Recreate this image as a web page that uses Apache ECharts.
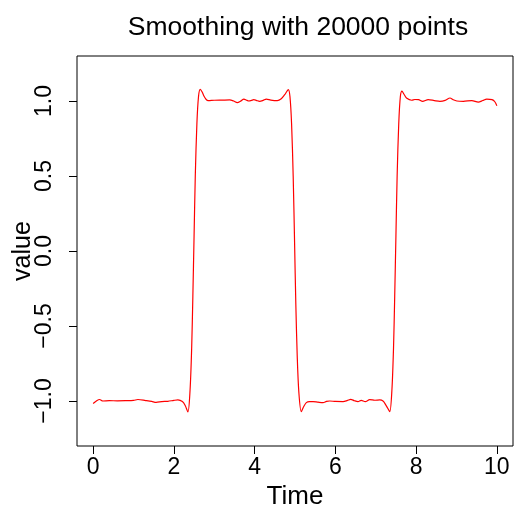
<!DOCTYPE html>
<html><head><meta charset="utf-8">
<script src="https://cdn.jsdelivr.net/npm/echarts@6/dist/echarts.min.js"></script>
<style>html,body{margin:0;padding:0;background:#fff}#c{width:514px;height:508px}</style>
</head><body><div id="c"></div>
<script>
var titleText = 'Smoothing with 20000 points';
var xTicks = [0, 2, 4, 6, 8, 10];
var yTicks = [-1, -0.5, 0, 0.5, 1];
var time = [0, 0.08, 0.16, 0.24, 0.4, 0.6, 0.8, 1.0, 1.11, 1.3, 1.45, 1.56, 1.7, 1.85, 2.0, 2.10, 2.21, 2.28, 2.347,
  2.40, 2.44, 2.47, 2.50, 2.53, 2.57, 2.61, 2.652, 2.70, 2.744, 2.80, 2.85, 3.0, 3.2, 3.38, 3.48, 3.57, 3.65, 3.735,
  3.80, 3.86, 3.92, 3.98, 4.05, 4.125, 4.21, 4.29, 4.40, 4.56, 4.66, 4.745, 4.834, 4.875, 4.915, 4.955, 4.99, 5.02,
  5.055, 5.095, 5.156, 5.21, 5.28, 5.36, 5.446, 5.57, 5.694, 5.78, 5.86, 6.0, 6.19, 6.30, 6.38, 6.47, 6.56, 6.64,
  6.74, 6.85, 6.98, 7.10, 7.18, 7.24, 7.30, 7.348, 7.40, 7.44, 7.47, 7.50, 7.53, 7.57, 7.61, 7.65, 7.70, 7.77, 7.89,
  7.97, 8.06, 8.16, 8.30, 8.45, 8.59, 8.72, 8.84, 8.92, 9.01, 9.17, 9.38, 9.54, 9.65, 9.75, 9.88, 9.95, 10.0];
var value = [-1.017, -1.0, -0.99, -1.0, -0.998, -0.999, -0.998, -0.996, -0.99, -0.997, -1.003, -1.009, -1.004, -1.002,
  -0.996, -0.993, -1.004, -1.03, -1.073,
  -0.93, -0.65, -0.3, 0.1, 0.5, 0.85, 1.03, 1.078, 1.06, 1.033, 1.01, 1.002, 1.005, 1.006, 1.007, 1.0, 0.989, 0.998, 1.013,
  1.005, 1.0, 1.004, 1.009, 1.003, 0.998, 1.004, 1.013, 1.006, 1.002, 1.015, 1.042, 1.076, 1.03, 0.85, 0.5, 0.05, -0.35,
  -0.7, -0.94, -1.071, -1.04, -1.011, -1.004, -1.004, -1.008, -1.011, -1.003, -1.0, -1.003, -1.004, -0.996, -0.989, -0.998, -1.004, -0.996,
  -1.004, -0.991, -0.995, -0.993, -1.0, -1.022, -1.05, -1.071, -0.93, -0.65, -0.3, 0.1, 0.5, 0.85, 1.03, 1.066, 1.045, 1.018, 1.005,
  1.01, 1.009, 0.998, 1.009, 1.003, 0.998, 1.004, 1.02, 1.008, 1.0, 0.998, 1.003, 0.993, 1.003, 1.013, 1.009, 0.995, 0.968];

var font = 'Liberation Sans, Arial, Helvetica, sans-serif';
var pts = time.map(function (t, i) { return [t, value[i]]; });
var box = {left: 77, right: 1, top: 56, bottom: 62, outerBoundsMode: 'none'};
function g(extra) { return Object.assign({}, box, extra || {}); }
var tickStyle = {show: true, length: 8, lineStyle: {color: '#000', width: 1}};
var tickLine = {show: true, showMinLine: false, showMaxLine: false, lineStyle: {color: '#000', width: 1, type: 'solid'}};
var chart = echarts.init(document.getElementById('c'), null, {renderer: 'canvas'});
chart.setOption({
  animation: false,
  backgroundColor: '#fff',
  title: {
    text: titleText, left: 293, top: 9, textAlign: 'center',
    textStyle: {fontFamily: font, fontSize: 26.5, fontWeight: 'normal', color: '#000'}
  },
  grid: [
    g({show: true, borderColor: '#000', borderWidth: 1, backgroundColor: 'transparent'}),
    g({show: false}),
    g({show: false}),
    {left: 77, right: 1, top: 446, bottom: 54, show: false, outerBoundsMode: 'none'},
    {left: 69, width: 8, top: 56, bottom: 62, show: false, outerBoundsMode: 'none'}
  ],
  xAxis: [{
    gridIndex: 0, type: 'value', min: -0.4, max: 10.4,
    name: 'Time', nameLocation: 'middle', nameGap: 38, nameMoveOverlap: false,
    nameTextStyle: {fontFamily: font, fontSize: 26, color: '#000'},
    axisLine: {show: false, onZero: true, onZeroAxisIndex: 0},
    axisTick: Object.assign({customValues: xTicks}, tickStyle),
    axisLabel: {customValues: xTicks, margin: 10, fontFamily: font, fontSize: 23, color: '#000'},
    splitLine: {show: false}
  }, {
    gridIndex: 1, type: 'value', show: false, min: 0, max: 1
  }, {
    gridIndex: 2, type: 'value', show: false, min: -0.4, max: 10.4
  }, {
    gridIndex: 3, type: 'value', min: -0.4, max: 10.4, splitNumber: 5,
    axisLine: {show: false}, axisTick: {show: false}, axisLabel: {show: false},
    splitLine: tickLine
  }, {
    gridIndex: 4, type: 'value', show: false, min: 0, max: 1
  }],
  yAxis: [{
    gridIndex: 0, type: 'value', show: false, min: 0, max: 1
  }, {
    gridIndex: 1, type: 'value', min: -1.3, max: 1.3,
    name: 'value', nameLocation: 'middle', nameGap: 41, nameRotate: 90, nameMoveOverlap: false,
    nameTextStyle: {fontFamily: font, fontSize: 25, color: '#000'},
    axisLine: {show: false, onZero: true, onZeroAxisIndex: 1},
    axisTick: Object.assign({customValues: yTicks}, tickStyle),
    axisLabel: {customValues: yTicks, rotate: 90, margin: 21, fontFamily: font, fontSize: 23, color: '#000',
      formatter: function (v) { return v.toFixed(1).replace('-', '\u2212'); }},
    splitLine: {show: false}
  }, {
    gridIndex: 2, type: 'value', show: false, min: -1.3, max: 1.3
  }, {
    gridIndex: 3, type: 'value', show: false, min: 0, max: 1
  }, {
    gridIndex: 4, type: 'value', min: -1.3, max: 1.3, splitNumber: 5,
    axisLine: {show: false}, axisTick: {show: false}, axisLabel: {show: false},
    splitLine: tickLine
  }],
  series: [{
    type: 'line', xAxisIndex: 2, yAxisIndex: 2, data: pts, showSymbol: false, smooth: 0.3,
    lineStyle: {color: '#ff0000', width: 1.2}
  }]
});
</script></body></html>
